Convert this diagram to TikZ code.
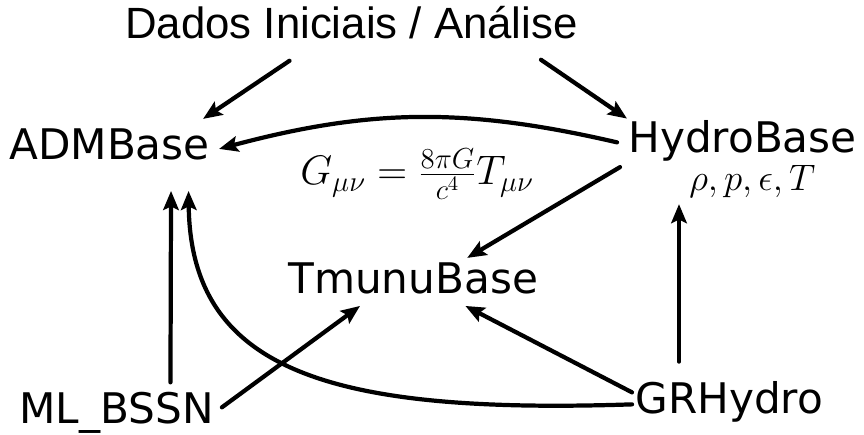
\RequirePackage{fix-cm}
\documentclass[tikz,border=0pt]{standalone}
\usepackage[no-math]{fontspec}
\newfontfamily\dejavu{DejaVu Sans}
\newfontfamily\liber{Liberation Sans}
\usetikzlibrary{arrows.meta}
\tikzset{
  modlabel/.style={font=\dejavu\fontsize{24}{28}\selectfont, inner sep=0pt, anchor=base west},
  toplabel/.style={font=\liber\fontsize{24.9}{29}\selectfont, inner sep=0pt, anchor=base west},
  mathlabel/.style={font=\fontsize{21}{25}\selectfont, inner sep=0pt, anchor=base west},
  link/.style={line width=2.4pt, line cap=round, -{Stealth[length=3.8mm, width=3.1mm, inset=0.7mm]}},
}
\begin{document}
\begin{tikzpicture}[x=0.02cm, y=-0.02cm]
\useasboundingbox (0,0) rectangle (864,435);
% thorns
\node[toplabel] (dados) at (125,39) {Dados Iniciais / Análise};
\node[modlabel] (adm) at (9,160) {ADMBase};
\node[modlabel] (hydro) at (628,153) {HydroBase};
\node[modlabel] (tmunu) at (288,293) {TmunuBase};
\node[modlabel] (bssn) at (19,423) {ML\_BSSN};
\node[modlabel] (grhydro) at (635,413) {GRHydro};
\node[mathlabel] (vars) at (689,191) {$\rho, p, \epsilon, T$};
\node[mathlabel, font=\fontsize{23.5}{28}\selectfont] (einstein) at (300,185) {$G_{\mu\nu} = \frac{8\pi G}{c^4} T_{\mu\nu}$};
% data flow
\draw[link] ([shift={(-62,21)}]dados.south) -- ([shift={(-7,-10)}]adm.north east);
\draw[link] ([shift={(-37,20)}]dados.south east) -- ([shift={(-1,-2)}]hydro.north west);
\draw[link] ([shift={(-11,1)}]hydro.west) to[bend right=14] ([shift={(9,4)}]adm.east);
\draw[link] ([shift={(-8,5)}]hydro.south west) -- ([shift={(54,-4)}]tmunu.north);
\draw[link] ([shift={(54,-9)}]bssn.north) -- ([shift={(61.5,30)}]adm.south);
\draw[link] ([shift={(-3,3)}]grhydro.west)
  .. controls ([shift={(-305,13)}]grhydro.west) and ([shift={(81,210)}]adm.south)
  .. ([shift={(79,30)}]adm.south);
\draw[link] ([shift={(8,-5)}]bssn.east) -- ([shift={(72,12)}]tmunu.south west);
\draw[link] ([shift={(-3,-9)}]grhydro.west) -- ([shift={(-73,12)}]tmunu.south east);
\draw[link] ([shift={(44,-19)}]grhydro.north west) -- ([shift={(51,42)}]hydro.south west);
\end{tikzpicture}
\end{document}
